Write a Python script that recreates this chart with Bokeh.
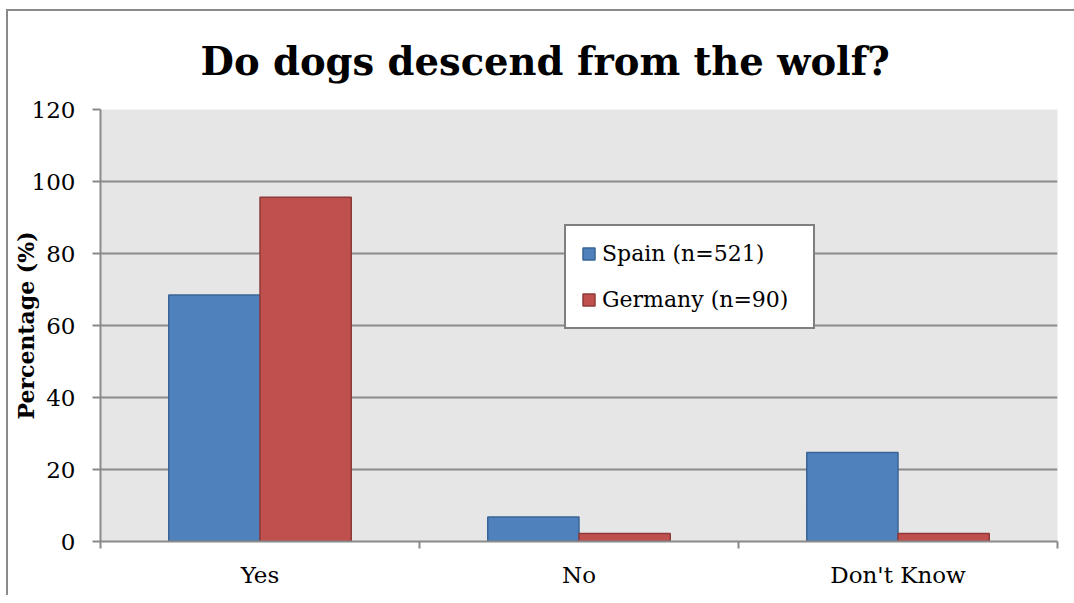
from bokeh.plotting import figure
from bokeh.models import Range1d, FixedTicker, Legend, LegendItem, ColumnDataSource
from bokeh.embed import file_html
from bokeh.resources import INLINE

# ---- data ----
categories = ["Yes", "No", "Don't Know"]
spain = [68.5, 6.8, 24.7]
germany = [95.6, 2.2, 2.2]
series_names = ["Spain (n=521)", "Germany (n=90)"]
y_ticks = [0, 20, 40, 60, 80, 100, 120]

# ---- style ----
FONT = "DejaVu Serif"
GRID = "#8a8a8a"
BAR_W = 0.286

centers = [i + 0.5 for i in range(len(categories))]
src_s = ColumnDataSource(dict(x=[c - BAR_W / 2 for c in centers], top=spain))
src_g = ColumnDataSource(dict(x=[c + BAR_W / 2 for c in centers], top=germany))

p = figure(
    frame_width=957, frame_height=432,
    x_range=Range1d(0, len(categories)), y_range=Range1d(0, 120),
    output_backend="svg", toolbar_location=None,
    min_border_left=92, min_border_right=17, min_border_top=98, min_border_bottom=54,
)
p.styles = {"border-left": "2px solid #8a8a8a", "border-top": "2px solid #8a8a8a",
            "margin-left": "6px", "margin-top": "9px"}

p.title.text = "Do dogs descend from the wolf?"
p.title.text_font = FONT
p.title.text_font_style = "bold"
p.title.text_font_size = "38.5px"
p.title.text_color = "black"
p.title.align = "left"
p.title.offset = 100
p.title.standoff = 51

p.background_fill_color = "#e6e6e6"
p.border_fill_color = "white"
p.outline_line_color = None

r_s = p.vbar(x="x", top="top", width=BAR_W, bottom=0, source=src_s,
             fill_color="#4f81bd", line_color="#3a6496", line_width=1.5)
r_g = p.vbar(x="x", top="top", width=BAR_W, bottom=0, source=src_g,
             fill_color="#c0504d", line_color="#8e3a38", line_width=1.5)

# x axis
xa = p.xaxis[0]
xa.ticker = FixedTicker(ticks=centers, minor_ticks=list(range(len(categories) + 1)))
xa.major_label_overrides = {c: cat for c, cat in zip(centers, categories)}
xa.major_tick_out = 0
xa.major_tick_in = 0
xa.minor_tick_out = 7
xa.minor_tick_in = 0
xa.minor_tick_line_color = GRID
xa.minor_tick_line_width = 2
xa.axis_line_color = GRID
xa.axis_line_width = 2
xa.major_label_text_font = FONT
xa.major_label_text_font_size = "23px"
xa.major_label_text_color = "black"
xa.major_label_standoff = 13

# y axis
ya = p.yaxis[0]
ya.ticker = FixedTicker(ticks=y_ticks)
ya.major_tick_out = 8
ya.major_tick_in = 0
ya.minor_tick_out = 0
ya.minor_tick_in = 0
ya.major_tick_line_color = GRID
ya.major_tick_line_width = 2
ya.axis_line_color = GRID
ya.axis_line_width = 2
ya.major_label_text_font = FONT
ya.major_label_text_font_size = "23px"
ya.major_label_text_color = "black"
ya.major_label_standoff = 17
ya.axis_label = "Percentage (%)"
ya.axis_label_text_font = FONT
ya.axis_label_text_font_style = "bold"
ya.axis_label_text_font_size = "22px"
ya.axis_label_text_color = "black"
ya.axis_label_standoff = -10

p.xgrid.grid_line_color = None
p.ygrid.grid_line_color = GRID
p.ygrid.grid_line_width = 2

legend = Legend(
    items=[LegendItem(label=series_names[0], renderers=[r_s]),
           LegendItem(label=series_names[1], renderers=[r_g])],
    location=(464, 212),
    border_line_color="black", border_line_width=2,
    background_fill_color="white", background_fill_alpha=1,
    label_text_font=FONT, label_text_font_size="22px", label_text_color="black",
    glyph_width=15, glyph_height=15, label_standoff=6, label_width=196,
    label_height=20, padding=15, spacing=21, margin=0,
)
p.add_layout(legend, "center")

open("out.html", "w").write(file_html(p, INLINE))
